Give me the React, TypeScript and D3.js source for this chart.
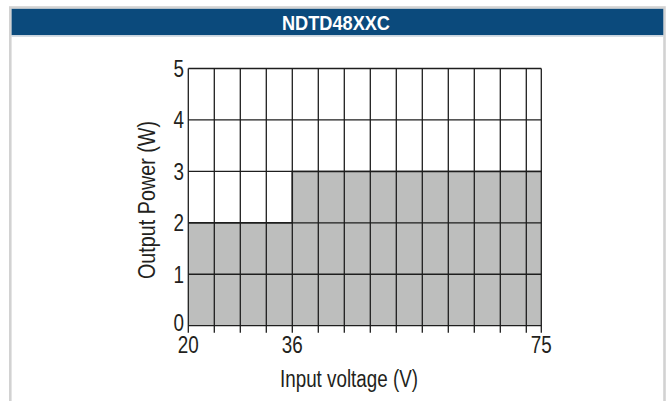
import React from "react";
import * as d3 from "d3";

// chart values
const voltage = [20, 36, 75];
const power = [2, 3, 3];
const xTickLabels = [20, 36, 75];
const yTicks = [0, 1, 2, 3, 4, 5];
const xGrid = [20, 24, 28, 32, 36, 40, 44, 48, 52, 56, 60, 64, 68, 72, 75];

const title = "NDTD48XXC";
const xTitle = "Input voltage (V)";
const yTitle = "Output Power (W)";

const font = "'Liberation Sans', Arial, sans-serif";
const ink = "#231f20";

// the source uses a condensed face, so squeeze Liberation Sans horizontally
function Narrow({ x, y, anchor = "middle", size = 23, sx = 0.82, rotate = 0, children }: any) {
  return (
    <text transform={`translate(${x},${y}) rotate(${rotate}) scale(${sx},1)`}
      textAnchor={anchor} fill={ink}
      style={{ fontFamily: font, fontSize: size }}>{children}</text>
  );
}

export default function App() {
  const width = 669;
  const height = 401;

  // the source drawing keeps 4 V columns of equal width, the last one is cut short
  const x = d3.scaleLinear().domain([20, 72, 75]).range([188.3, 526.3, 541.3]);
  const y = d3.scaleLinear().domain([0, 5]).range([325.7, 68.5]);

  const pts = voltage.map((v, i) => [v, power[i]] as [number, number]);

  const area = d3.area<[number, number]>()
    .x(d => x(d[0]))
    .y0(y(0))
    .y1(d => y(d[1]))
    .curve(d3.curveStepAfter);

  const line = d3.line<[number, number]>()
    .x(d => x(d[0]))
    .y(d => y(d[1]))
    .curve(d3.curveStepAfter);

  const gridColor = "#1e1e1e";

  return (
    <svg width={width} height={height}
      style={{ position: "absolute", left: 0, top: 0, background: "#fff" }}>
      {/* frame */}
      <rect x={10.3} y={7.5} width={654.2} height={400} fill="#fff" stroke="#d2d2d2" strokeWidth={2.6} />
      <rect x={11.6} y={8.8} width={651.7} height={26.4} fill="#0b4a7c" />
      <line x1={11.6} x2={663.3} y1={36} y2={36} stroke="#c9d3dc" strokeWidth={1.6} />
      <text x={336} y={30.3} textAnchor="middle" fill="#fff"
        style={{ fontFamily: font, fontWeight: 700, fontSize: 21 }}
        textLength={108} lengthAdjust="spacingAndGlyphs">{title}</text>

      {/* filled region */}
      <path d={area(pts) || ""} fill="#bdbebd" />

      {/* grid */}
      {yTicks.map(t => (
        <line key={"h" + t} x1={x(20)} x2={x(75)} y1={y(t)} y2={y(t)} stroke={gridColor} strokeWidth={1.3} />
      ))}
      {xGrid.map(v => (
        <line key={"v" + v} x1={x(v)} x2={x(v)} y1={y(5)} y2={y(0) + 7} stroke={gridColor} strokeWidth={1.3} />
      ))}
      <path d={line(pts) || ""} fill="none" stroke={gridColor} strokeWidth={1.5} />

      {/* y tick labels */}
      {yTicks.map(t => (
        <Narrow key={"yl" + t} x={184} y={y(t) + 8.3 - (t === 0 ? 3 : 0)} anchor="end">{t}</Narrow>
      ))}

      {/* x tick labels */}
      {xTickLabels.map(v => (
        <Narrow key={"xl" + v} x={x(v)} y={353.3}>{v}</Narrow>
      ))}

      <text x={349} y={387.3} textAnchor="middle" fill={ink}
        style={{ fontFamily: font, fontSize: 23 }}
        textLength={138} lengthAdjust="spacingAndGlyphs">{xTitle}</text>
      <text transform={`translate(155,${200}) rotate(-90)`} textAnchor="middle" fill={ink}
        style={{ fontFamily: font, fontSize: 23 }}
        textLength={158} lengthAdjust="spacingAndGlyphs">{yTitle}</text>
    </svg>
  );
}
